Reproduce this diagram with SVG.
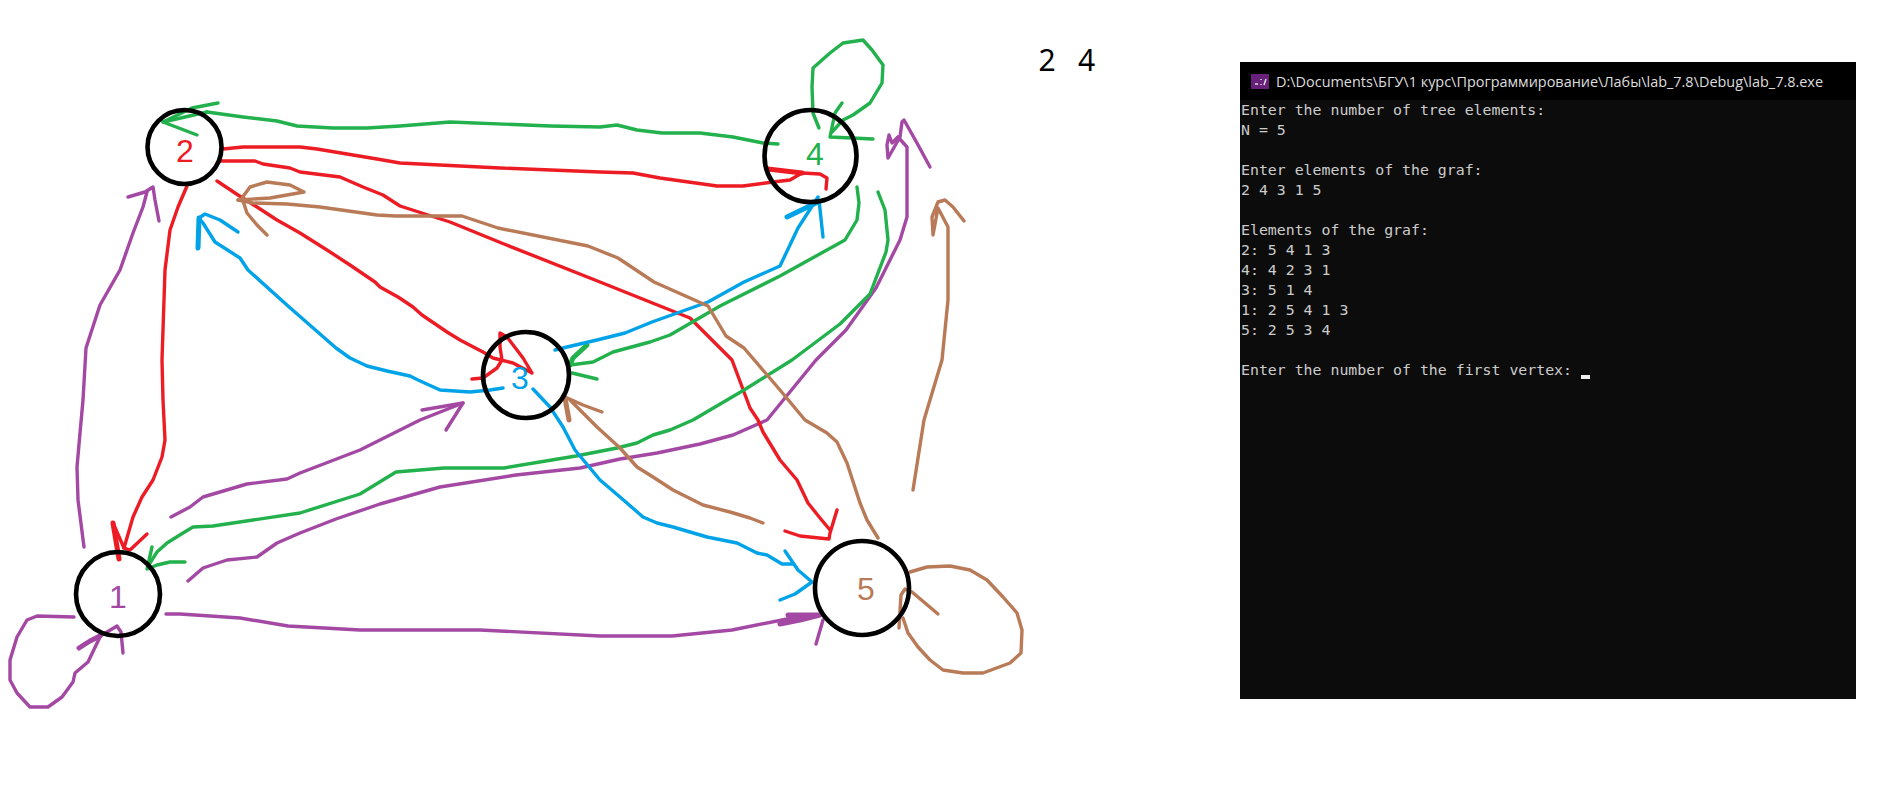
<svg xmlns="http://www.w3.org/2000/svg" width="1885" height="796" viewBox="0 0 1885 796">
<style>
.c path{fill:none;stroke-width:3.4;stroke-linecap:round;stroke-linejoin:round}
.p path{stroke:#a349a4}.r path{stroke:#ed1c24}.g path{stroke:#22b14c}.b path{stroke:#00a2e8}.n path{stroke:#b97a57}
.c path.t{stroke-width:5}
circle{fill:none;stroke:#000;stroke-width:4.6}
.l{font:32px "Liberation Sans",Arial,sans-serif;text-anchor:middle}
.m{font:14.87px "DejaVu Sans Mono","Liberation Mono",monospace;fill:#ccc}
</style>
<rect width="1885" height="796" fill="#fff"/>
<g id="connectors" class="c">
<g class="p">
<path d="M84 547L78 500L77 467L80 433L83 400L86 348L100 305L120 270L133 233L143 207L147 192"/><path d="M128 197L145 192L153 187L155 200L159 221"/>
<path d="M171 517L190 507L203 497L247 484L287 479L300 473L360 450L420 420L463 403"/><path d="M422 410L463 403L446 430"/>
<path d="M188 581L203 568L227 560L257 557L277 543L300 533L336 519L380 504L440 487L516 475L580 468L620 459L657 453L700 444L733 435L767 420L816 360L846 330L876 288L900 240L907 217L907 147L898 137"/><path d="M930 167L917 143L904 120L902 122L900 137L888 158L887 145L889 135L892 143L898 137"/>
<path d="M166 614L180 614L240 618L288 626L360 630L480 630L600 636L672 636L732 630L792 618L820 615"/><path class="t" d="M788 615L820 615L800 620L780 624"/><path d="M823 620L816 644"/>
<path d="M74 617L37 616L27 620L17 637L10 660L10 680L17 693L30 707L48 707L62 697L73 682L75 673L88 662L100 637"/><path class="t" d="M79 648L90 641L100 636"/><path d="M100 636L107 632L117 626L121 632L123 653"/>
</g>
<g class="r">
<path d="M223 149L243 147L300 147L317 149L377 159L400 163L500 168L600 172L633 173L660 178L717 186L743 186L773 182L790 180L802 173"/><path class="t" d="M768 169L802 173"/><path d="M802 173L820 174L827 178L826 189"/>
<path d="M220 161L255 161L263 164L290 168L300 172L340 177L363 187L383 195L400 206L450 222L504 244L600 282L690 318L732 360L750 408L758 420L763 432L780 460L797 480L808 503L820 518L830 530"/><path d="M785 531L800 536L829 539L830 533L837 510"/>
<path d="M217 181L238 195L257 207L277 220L300 233L327 250L350 265L375 282L380 287L398 297L413 307L422 315L447 332L460 340L483 352L493 358L513 363L532 373L523 358L507 337L500 333L500 347L502 360L497 368L483 378L472 379"/>
<path d="M187 186L178 207L170 230L165 270L162 360L163 400L165 440L162 457L153 480L142 497L133 517L124 548"/><path class="t" d="M113 523L119 559"/><path d="M113 523L124 548L130 550L147 534"/>
</g>
<g class="g">
<path d="M778 144L763 143L733 137L700 133L662 133L637 130L617 125L600 127L550 126L450 122L400 126L367 128L333 128L297 126L277 121L243 117L207 112"/><path d="M218 103L192 108L163 122L197 135"/><path d="M207 112L163 122"/>
<path d="M819 128L813 113L812 87L813 68L830 53L843 43L863 40L872 50L883 65L882 83L870 103L853 115L843 120L832 132"/><path d="M842 103L835 113L830 137L873 139"/>
<path d="M857 187L859 203L857 220L845 240L780 276L720 306L670 335L650 342L613 352L593 362L570 365"/><path class="t" d="M587 345L573 358L570 365"/><path d="M572 373L597 379"/>
<path d="M878 192L885 210L888 240L886 252L870 294L840 324L792 360L744 390L693 420L670 430L653 435L637 443L617 448L576 456L504 468L444 468L396 472L360 494L300 513L253 520L213 526L193 527L183 533L167 543L157 552L150 563"/><path d="M152 547L147 569L157 565L170 562L185 562"/>
</g>
<g class="b">
<path d="M503 388L490 390L470 392L440 390L418 380L410 376L387 371L367 366L350 358L336 348L288 306L248 270L240 258L215 242L203 223L199 218"/><path class="t" d="M198 248L199 218"/><path d="M199 218L205 214L220 220L238 232"/>
<path d="M555 350L567 347L597 340L625 333L652 322L708 302L744 282L780 266L798 228L818 197"/><path class="t" d="M787 217L818 202"/><path d="M819 200L823 237"/>
<path d="M533 389L550 407L563 427L575 450L600 480L620 497L643 517L657 523L673 527L707 537L737 543L757 553L767 555L782 564L793 564"/><path d="M785 551L798 570L812 582L795 594L780 600"/>
</g>
<g class="n">
<path d="M878 538L867 520L860 503L847 463L837 442L827 433L805 420L780 390L744 348L726 336L708 306L654 282L618 258L588 246L498 228L462 216L396 216L377 215L320 207L287 204L253 203L238 200"/><path d="M238 200L270 198L304 192L290 185L267 182L250 187L242 198L247 213L257 225L267 235"/>
<path d="M763 523L750 518L730 512L703 505L673 490L653 477L637 467L620 448L597 427L570 400"/><path d="M602 412L583 405L565 397"/><path class="t" d="M565 398L569 420"/>
<path d="M910 572L927 567L950 566L970 570L987 580L1003 597L1017 613L1022 630L1021 653L1010 663L983 673L963 673L943 670L930 660L918 647L908 633L903 618"/><path d="M899 628L901 595L905 589L912 592L938 614"/>
<path d="M913 490L924 420L942 360L948 300L948 240L948 227L938 208L933 235L932 217L938 202L945 200L953 207L964 221"/>
</g>
</g>
<g id="node1"><circle cx="118" cy="594" r="42"/><text class="l" x="118" y="608" fill="#a349a4">1</text></g>
<g id="node2"><circle cx="184.500" cy="147" r="37"/><text class="l" x="185" y="162" fill="#ed1c24">2</text></g>
<g id="node3"><circle cx="526" cy="375" r="43"/><text class="l" x="520" y="389" fill="#00a2e8">3</text></g>
<g id="node4"><circle cx="810.500" cy="156" r="46"/><text class="l" x="815" y="165" fill="#22b14c">4</text></g>
<g id="node5"><circle cx="862" cy="588" r="47"/><text class="l" x="866" y="600" fill="#b97a57">5</text></g>
<text id="result" y="71" font-family="'Noto Sans','Liberation Sans',sans-serif" font-size="30" fill="#000"><tspan x="1038.500">2</tspan><tspan x="1078">4</tspan></text>
<g id="console">
<rect x="1240" y="62" width="616" height="637" fill="#0c0c0c"/>
<rect x="1240" y="62" width="616" height="38" fill="#000"/>
<rect x="1251" y="74" width="18" height="15" fill="#68217a"/>
<path d="M1255 84h3M1261 79v1M1261 84v1M1264 85l2-6" stroke="#ddd" stroke-width="1.500" fill="none"/>
<text x="1276" y="87" font-family="'Open Sans','Noto Sans',sans-serif" font-size="14.500" fill="#ddd" textLength="547" lengthAdjust="spacingAndGlyphs">D:\Documents\БГУ\1 курс\Программирование\Лабы\lab_7.8\Debug\lab_7.8.exe</text>
<text class="m" x="1241" y="115">Enter the number of tree elements:</text>
<text class="m" x="1241" y="135">N = 5</text>
<text class="m" x="1241" y="175">Enter elements of the graf:</text>
<text class="m" x="1241" y="195">2 4 3 1 5</text>
<text class="m" x="1241" y="235">Elements of the graf:</text>
<text class="m" x="1241" y="255">2: 5 4 1 3</text>
<text class="m" x="1241" y="275">4: 4 2 3 1</text>
<text class="m" x="1241" y="295">3: 5 1 4</text>
<text class="m" x="1241" y="315">1: 2 5 4 1 3</text>
<text class="m" x="1241" y="335">5: 2 5 3 4</text>
<text class="m" x="1241" y="375">Enter the number of the first vertex:</text>
<rect x="1581" y="375" width="9" height="4" fill="#eee"/>
</g>
</svg>
